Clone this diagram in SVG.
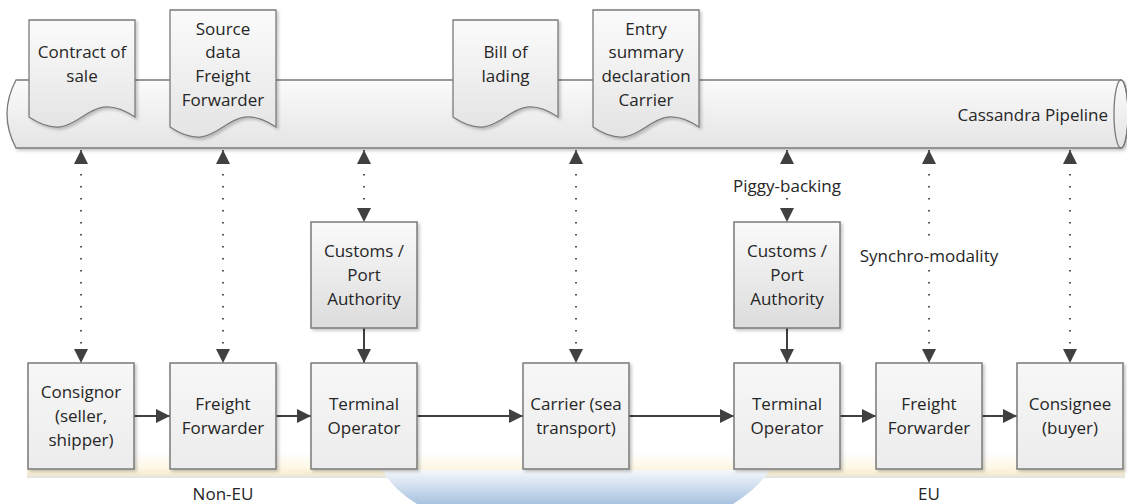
<svg xmlns="http://www.w3.org/2000/svg" width="1127" height="504" viewBox="0 0 1127 504">
  <style>
    text { font-family: "Open Sans", "Liberation Sans", sans-serif; font-size: 17px; fill: #262626; text-anchor: middle; }
    .box { fill: url(#boxFill); stroke: #7a7a7a; stroke-width: 1.5; filter: url(#shadow); }
    .cust { fill: url(#custFill); stroke: #7a7a7a; stroke-width: 1.5; filter: url(#shadow); }
    .doc { fill: url(#pipeFill); stroke: #7a7a7a; stroke-width: 1.3; filter: url(#shadow); }
    .flow { stroke: #404040; stroke-width: 2; fill: none; marker-end: url(#head); }
    .link { stroke: #404040; stroke-width: 1.8; fill: none; stroke-dasharray: 1.5 10.5; marker-start: url(#head); marker-end: url(#head); }
    .tag { fill: #ffffff; }
  </style>
  <defs>
    <linearGradient id="pipeFill" x1="0" y1="0" x2="0" y2="1">
      <stop offset="0" stop-color="#fbfbfb"/>
      <stop offset="1" stop-color="#e4e4e4"/>
    </linearGradient>
    <linearGradient id="boxFill" x1="0" y1="0" x2="0" y2="1">
      <stop offset="0" stop-color="#f7f7f7"/>
      <stop offset="1" stop-color="#ececec"/>
    </linearGradient>
    <linearGradient id="custFill" x1="0" y1="0" x2="0" y2="1">
      <stop offset="0" stop-color="#fafafa"/>
      <stop offset="1" stop-color="#dcdcdc"/>
    </linearGradient>
    <linearGradient id="bandFill" x1="0" y1="0" x2="0" y2="1">
      <stop offset="0" stop-color="#ffffff"/>
      <stop offset="0.6" stop-color="#fdf7e6"/>
      <stop offset="0.82" stop-color="#f8eed2"/>
      <stop offset="1" stop-color="#e2e2e2"/>
    </linearGradient>
    <linearGradient id="seaFill" x1="0" y1="0" x2="0" y2="1">
      <stop offset="0" stop-color="#f5f8fc"/>
      <stop offset="1" stop-color="#a9c3e0"/>
    </linearGradient>
    <filter id="shadow" x="-10%" y="-10%" width="130%" height="130%">
      <feDropShadow dx="2" dy="2" stdDeviation="1.5" flood-color="#000000" flood-opacity="0.22"/>
    </filter>
    <marker id="head" viewBox="0 0 14 14" refX="14" refY="7" markerWidth="14" markerHeight="14" markerUnits="userSpaceOnUse" orient="auto-start-reverse">
      <path d="M0,0 L14,7 L0,14 Z" fill="#404040"/>
    </marker>
  </defs>

  <!-- region backdrops -->
  <g id="regions">
    <rect x="27" y="452" width="1098" height="26" fill="url(#bandFill)"/>
    <path d="M382,470 H770 Q758,488 733,504 H417 Q394,490 382,470 Z" fill="url(#seaFill)"/>
    <text x="223" y="500">Non-EU</text>
    <text x="929" y="500">EU</text>
  </g>

  <!-- Cassandra pipeline cylinder -->
  <g id="pipeline">
    <path d="M16,80 H1121 A7,34 0 0 1 1121,148 H16 Q-2,114 16,80 Z" fill="url(#pipeFill)" stroke="#7a7a7a" stroke-width="1.3" filter="url(#shadow)"/>
    <ellipse cx="1121" cy="114" rx="7" ry="34" fill="none" stroke="#7a7a7a" stroke-width="1.3"/>
    <text x="1108" y="121" style="text-anchor:end">Cassandra Pipeline</text>
  </g>

  <!-- documents on the pipeline -->
  <g id="doc-contract">
    <path class="doc" d="M29,20 H135 V117 C82,82 82,152 29,117 Z"/>
    <text x="82" y="58">Contract of</text>
    <text x="82" y="82">sale</text>
  </g>
  <g id="doc-source">
    <path class="doc" d="M170,10 H276 V127 C223,92 223,162 170,127 Z"/>
    <text x="223" y="35">Source</text>
    <text x="223" y="58">data</text>
    <text x="223" y="82">Freight</text>
    <text x="223" y="106">Forwarder</text>
  </g>
  <g id="doc-lading">
    <path class="doc" d="M453,20 H558 V117 C505.5,82 505.5,152 453,117 Z"/>
    <text x="505.5" y="58">Bill of</text>
    <text x="505.5" y="82">lading</text>
  </g>
  <g id="doc-entry">
    <path class="doc" d="M593,10 H699 V127 C646,92 646,162 593,127 Z"/>
    <text x="646" y="35">Entry</text>
    <text x="646" y="58">summary</text>
    <text x="646" y="82">declaration</text>
    <text x="646" y="106">Carrier</text>
  </g>

  <!-- connectors -->
  <g id="connectors">
    <line class="link" x1="81" y1="150" x2="81" y2="363"/>
    <line class="link" x1="223" y1="150" x2="223" y2="363"/>
    <line class="link" x1="364" y1="150" x2="364" y2="222"/>
    <line class="link" x1="576" y1="150" x2="576" y2="363"/>
    <line class="link" x1="787" y1="150" x2="787" y2="222"/>
    <line class="link" x1="929" y1="150" x2="929" y2="363"/>
    <line class="link" x1="1070" y1="150" x2="1070" y2="363"/>

    <line class="flow" x1="364" y1="328" x2="364" y2="363"/>
    <line class="flow" x1="787" y1="328" x2="787" y2="363"/>

    <line class="flow" x1="134" y1="416" x2="170" y2="416"/>
    <line class="flow" x1="276" y1="416" x2="311" y2="416"/>
    <line class="flow" x1="417" y1="416" x2="523" y2="416"/>
    <line class="flow" x1="629" y1="416" x2="734" y2="416"/>
    <line class="flow" x1="840" y1="416" x2="876" y2="416"/>
    <line class="flow" x1="982" y1="416" x2="1017" y2="416"/>

    <rect class="tag" x="730" y="174" width="114" height="22"/>
    <text x="787" y="192">Piggy-backing</text>
    <rect class="tag" x="855" y="244" width="148" height="24"/>
    <text x="929" y="262">Synchro-modality</text>
  </g>

  <!-- authority nodes -->
  <g id="customs-1">
    <rect class="cust" x="311" y="222" width="106" height="106"/>
    <text x="364" y="257">Customs /</text>
    <text x="364" y="281">Port</text>
    <text x="364" y="305">Authority</text>
  </g>
  <g id="customs-2">
    <rect class="cust" x="734" y="222" width="106" height="106"/>
    <text x="787" y="257">Customs /</text>
    <text x="787" y="281">Port</text>
    <text x="787" y="305">Authority</text>
  </g>

  <!-- supply chain nodes -->
  <g id="consignor">
    <rect class="box" x="28" y="363" width="106" height="106"/>
    <text x="81" y="398">Consignor</text>
    <text x="81" y="422">(seller,</text>
    <text x="81" y="446">shipper)</text>
  </g>
  <g id="forwarder-1">
    <rect class="box" x="170" y="363" width="106" height="106"/>
    <text x="223" y="410">Freight</text>
    <text x="223" y="434">Forwarder</text>
  </g>
  <g id="terminal-1">
    <rect class="box" x="311" y="363" width="106" height="106"/>
    <text x="364" y="410">Terminal</text>
    <text x="364" y="434">Operator</text>
  </g>
  <g id="carrier">
    <rect class="box" x="523" y="363" width="106" height="106"/>
    <text x="576" y="410">Carrier (sea</text>
    <text x="576" y="434">transport)</text>
  </g>
  <g id="terminal-2">
    <rect class="box" x="734" y="363" width="106" height="106"/>
    <text x="787" y="410">Terminal</text>
    <text x="787" y="434">Operator</text>
  </g>
  <g id="forwarder-2">
    <rect class="box" x="876" y="363" width="106" height="106"/>
    <text x="929" y="410">Freight</text>
    <text x="929" y="434">Forwarder</text>
  </g>
  <g id="consignee">
    <rect class="box" x="1017" y="363" width="106" height="106"/>
    <text x="1070" y="410">Consignee</text>
    <text x="1070" y="434">(buyer)</text>
  </g>
</svg>
